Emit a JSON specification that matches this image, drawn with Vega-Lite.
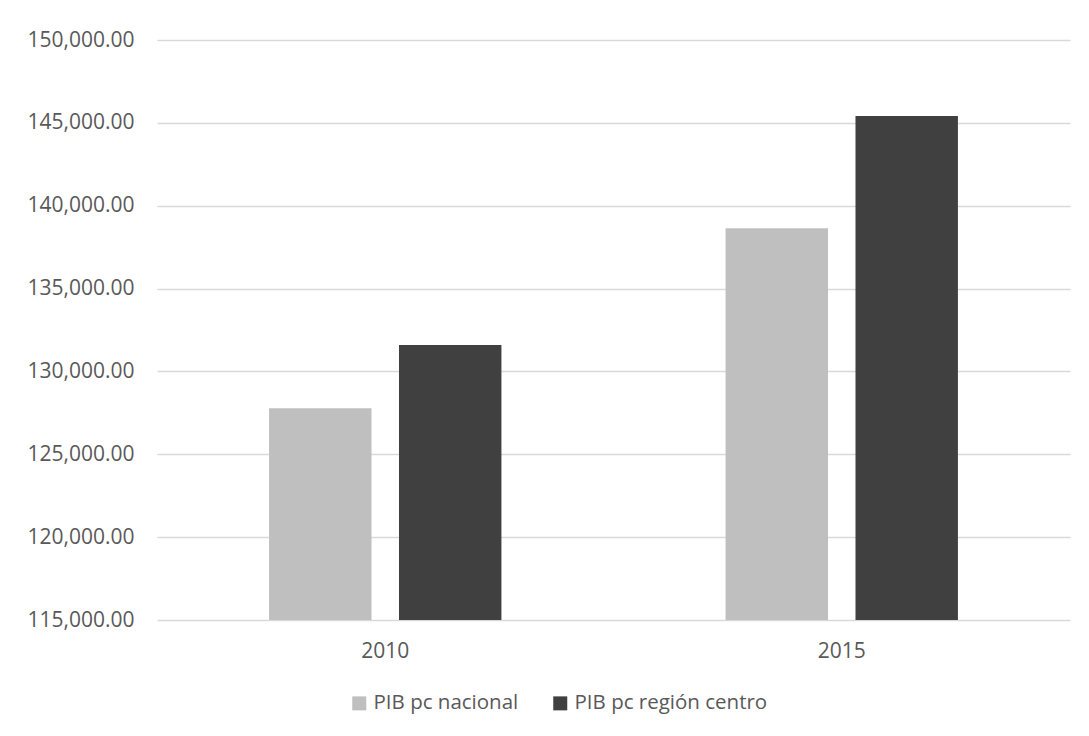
{
  "$schema": "https://vega.github.io/schema/vega-lite/v6.json",
  "width": 913,
  "height": 580,
  "autosize": {"type": "none"},
  "padding": {"left": 157, "top": 40, "right": 19, "bottom": 116},
  "background": "#ffffff",
  "data": {
    "values": [
      {"anio": "2010", "serie": "PIB pc nacional", "valor": 127775},
      {"anio": "2010", "serie": "PIB pc región centro", "valor": 131595},
      {"anio": "2015", "serie": "PIB pc nacional", "valor": 138637},
      {"anio": "2015", "serie": "PIB pc región centro", "valor": 145414}
    ]
  },
  "mark": {"type": "bar", "clip": true},
  "encoding": {
    "x": {
      "field": "anio",
      "type": "nominal",
      "scale": {"paddingInner": 0.491, "paddingOuter": 0.2455},
      "axis": {
        "title": null,
        "labelAngle": 0,
        "ticks": false,
        "domain": false,
        "labelPadding": 20,
        "labelFont": "Open Sans",
        "labelFontSize": 21,
        "labelColor": "#595959"
      }
    },
    "xOffset": {
      "field": "serie",
      "type": "nominal",
      "scale": {"paddingInner": 0.2115, "paddingOuter": 0}
    },
    "y": {
      "field": "valor",
      "type": "quantitative",
      "scale": {"domain": [115000, 150000], "nice": false, "zero": false},
      "axis": {
        "title": null,
        "values": [115000, 120000, 125000, 130000, 135000, 140000, 145000, 150000],
        "format": ",.2f",
        "ticks": false,
        "domain": false,
        "grid": true,
        "gridColor": "#d9d9d9",
        "gridWidth": 1.4,
        "labelPadding": 23,
        "labelFont": "Open Sans",
        "labelFontSize": 21,
        "labelColor": "#595959"
      }
    },
    "color": {
      "field": "serie",
      "type": "nominal",
      "scale": {
        "domain": ["PIB pc nacional", "PIB pc región centro"],
        "range": ["#bfbfbf", "#404040"]
      },
      "legend": {
        "title": null,
        "orient": "none",
        "direction": "horizontal",
        "legendX": 192,
        "legendY": 653,
        "padding": 0,
        "symbolType": "square",
        "symbolSize": 196,
        "symbolStrokeWidth": 0,
        "labelOffset": 4,
        "columnPadding": 31,
        "labelFont": "Open Sans",
        "labelFontSize": 20.5,
        "labelColor": "#595959",
        "labelLimit": 400
      }
    }
  },
  "config": {
    "view": {"stroke": null}
  }
}
